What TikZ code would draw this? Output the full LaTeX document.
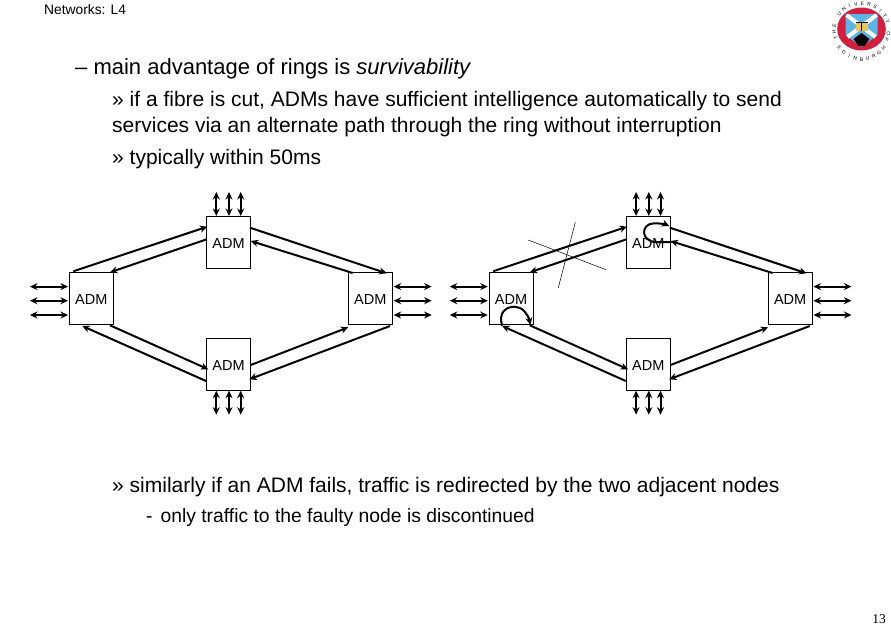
\documentclass[tikz,border=0pt]{standalone}
\usepackage{fontspec}
\setmainfont{Liberation Sans}
\newfontfamily\pagefont{Liberation Serif}
\usetikzlibrary{calc,arrows.meta}
\definecolor{crestred}{HTML}{D0203F}
\definecolor{crestblue}{HTML}{5FB4E6}
\definecolor{crestgold}{HTML}{E8C85A}

\tikzset{
  adm/.style={draw,fill=white,line width=0.7pt,minimum width=44pt,minimum height=52pt,inner sep=0pt,text height=12pt,text depth=0pt,font=\fontsize{14.5}{15}\selectfont},
  link/.style={-{Stealth[length=7.5pt,width=7pt]},line width=2pt},
  stub/.style={{Stealth[length=7.5pt,width=7pt]}-{Stealth[length=7.5pt,width=7pt]},line width=2pt},
  cutline/.style={line width=0.5pt},
  slidetext/.style={anchor=base west,inner sep=0pt,font=\fontsize{21}{23}\selectfont},
  crestletter/.style={inner sep=0pt,font=\fontsize{5}{5}\selectfont}
}

\begin{document}
\begin{tikzpicture}[x=1pt,y=-1pt]
  \useasboundingbox (0,0) rectangle (891,630);
  % ----- slide text -----
  \node[anchor=base west,inner sep=0pt,font=\fontsize{13.8}{15}\selectfont] (header) at (44,14.5){Networks: L4};
  \node[slidetext,font=\fontsize{22}{24}\selectfont] (main) at (75,74.5){– main advantage of rings is \textit{survivability}};
  \node[slidetext] (subA) at (112,106){» if a fibre is cut, ADMs have sufficient intelligence automatically to send};
  \node[slidetext] (subB) at (112,132){services via an alternate path through the ring without interruption};
  \node[slidetext] (subC) at (112,164.5){» typically within 50ms};
  \node[slidetext] (subD) at (112,492.5){» similarly if an ADM fails, traffic is redirected by the two adjacent nodes};
  \node[slidetext,font=\fontsize{19.3}{21}\selectfont] (subE) at (146,522.5){-\hspace{8pt}only traffic to the faulty node is discontinued};
  \node[anchor=base east,inner sep=0pt,font=\pagefont\fontsize{13.5}{14}\selectfont] (pageno) at (886,623){13};
  % ----- both rings -----
  \foreach \r/\ox in {a/228.5,b/648.3}{
    \node[adm] (\r T) at (\ox,242.3){ADM};
    \node[adm] (\r B) at (\ox,364.3){ADM};
    \node[adm] (\r L) at (\ox-137.2,298.3){ADM};
    \node[adm] (\r R) at (\ox+141.8,298.3){ADM};
    % ring fibres
    \foreach \s/\sx/\sy/\e/\ex/\ey in {L/-18/-27/T/-21.2/-15.6, T/-21.8/-3/L/18.7/-26,
        T/21.5/-14.6/R/16.4/-25, R/-17.6/-25.3/T/22.2/-1.3,
        R/19.7/27.7/B/20.8/15, B/22.2/0.7/R/-22/29,
        B/-22.5/16.7/L/-9/27.7, L/18.7/27/B/-20.2/5}{
      \draw[link] ($(\r\s)+(\sx,\sy)$) -- ($(\r\e)+(\ex,\ey)$);}
    % tributaries
    \foreach \k/\d in {1/-11.7,2/2.4,3/16.7}{
      \coordinate (\r W\k) at ($(\r L.west)+(-39,\d)$);
      \coordinate (\r E\k) at ($(\r R.east)+(39,\d)$);
      \draw[stub] (\r W\k) -- ($(\r L.west)+(-1,\d)$);
      \draw[stub] ($(\r R.east)+(1,\d)$) -- (\r E\k);}
    \foreach \k/\d in {1/-12.2,2/0.5,3/12.2}{
      \coordinate (\r N\k) at ($(\r T.north)+(\d,-24)$);
      \coordinate (\r S\k) at ($(\r B.south)+(\d,24)$);
      \draw[stub] (\r N\k) -- ($(\r T.north)+(\d,0)$);
      \draw[stub] ($(\r B.south)+(\d,0)$) -- (\r S\k);}
  }
  % ----- cut fibre -----
  \coordinate (cutA) at (528.3,240);
  \coordinate (cutB) at (606,269.7);
  \coordinate (cutC) at (575.3,222.3);
  \coordinate (cutD) at (558.3,287.7);
  \draw[cutline] (cutA) -- (cutB);
  \draw[cutline] (cutC) -- (cutD);
  % ----- loopbacks -----
  \draw[link] ($(bT)+(23.4,-0.3)$) -- ($(bT)+(8,-0.3)$)
     .. controls ($(bT)+(-8,-0.3)$) and ($(bT)+(-8,-19)$) .. ($(bT)+(6,-19)$)
     .. controls ($(bT)+(12,-19)$) and ($(bT)+(17,-18)$) .. ($(bT)+(21,-16.3)$);
  \draw[link] ($(bL)+(-9,27.4)$)
     .. controls ($(bL)+(-13,14)$) and ($(bL)+(-5,8.4)$) .. ($(bL)+(3.7,8.4)$)
     .. controls ($(bL)+(11,8.4)$) and ($(bL)+(17,16)$) .. ($(bL)+(19.4,26.7)$);
  % ----- crest -----
  \begin{scope}[shift={(861.5,29)},x=1pt,y=1pt]
    \fill[crestred] (0,0) ellipse (24.3 and 21.5);
    \fill[crestblue] (-16,15) -- (16,15) -- (16,-6) -- (0,-18) -- (-16,-6) -- cycle;
    \draw[white,line width=4pt] (-15,14) -- (14,-8) (15,14) -- (-14,-8);
    \fill[crestgold] (-6,7) rectangle (6,-2);
    \draw[black,line width=1pt] (0,7) -- (0,-2) (-6,7) -- (6,7);
    \fill[black] (-8,-10) -- (0,-4) -- (8,-10) -- (3,-17) -- (-3,-17) -- cycle;
    \foreach \ch [count=\i] in {T,H,E,{},U,N,I,V,E,R,S,I,T,Y,{},O,F}{
      \pgfmathsetmacro\ang{214-\i*14}
      \pgfmathsetmacro\rot{\ang-90}
      \node[crestletter,rotate=\rot] (top\i) at ({27.5*cos(\ang)},{25.5*sin(\ang)}){\ch};}
    \foreach \ch [count=\i] in {E,D,I,N,B,U,R,G,H}{
      \pgfmathsetmacro\ang{205+\i*13}
      \pgfmathsetmacro\rot{\ang+90}
      \node[crestletter,rotate=\rot] (bot\i) at ({28*cos(\ang)},{30.5*sin(\ang)}){\ch};}
  \end{scope}
\end{tikzpicture}
\end{document}
